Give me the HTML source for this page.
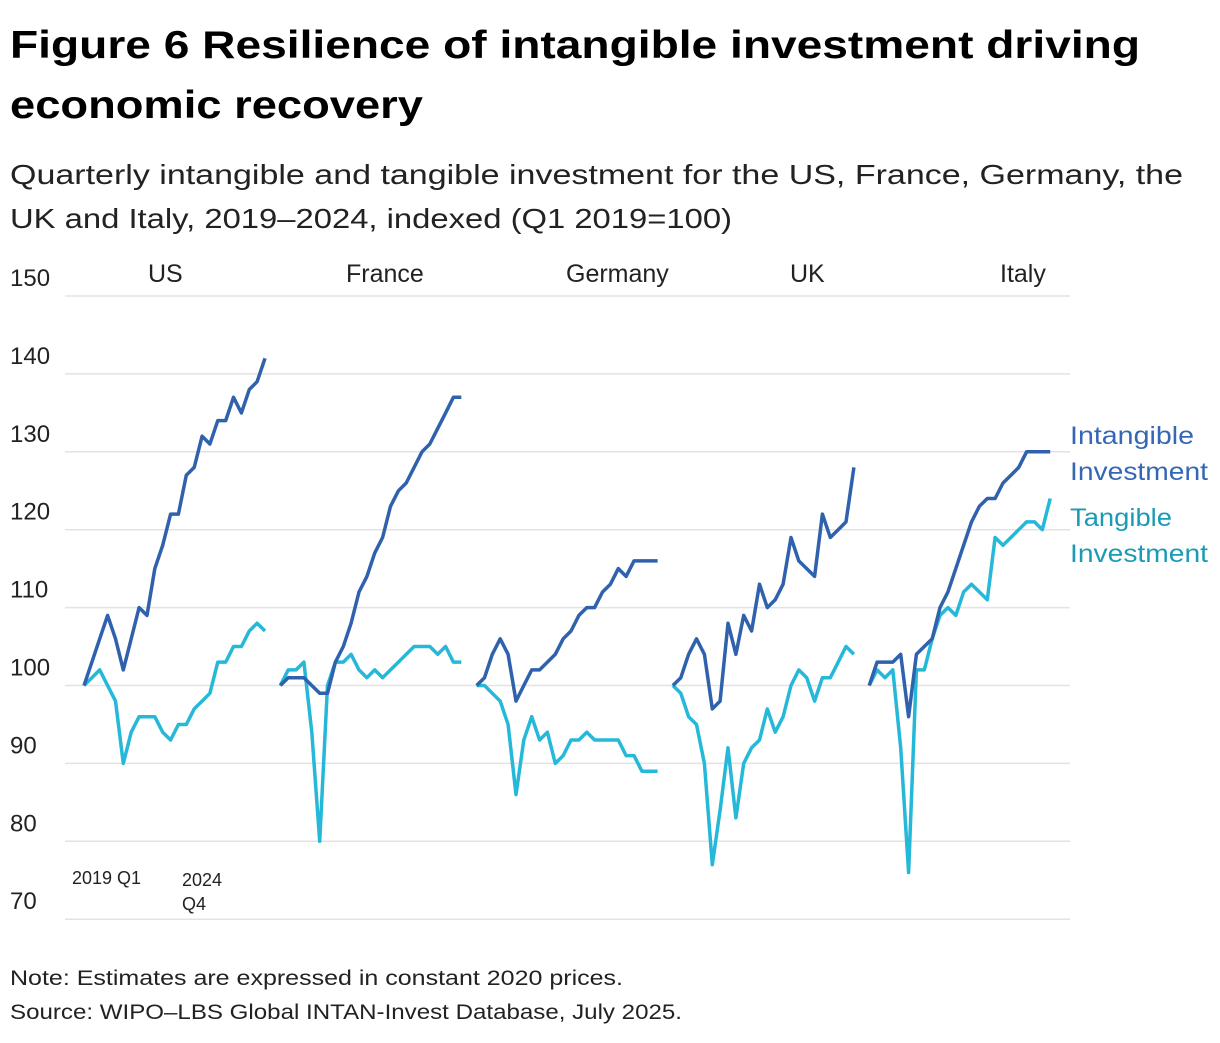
<!DOCTYPE html>
<html><head><meta charset="utf-8"><style>
body{margin:0;background:#fff;font-family:"Liberation Sans",sans-serif;}
svg text{font-family:"Liberation Sans",sans-serif;}
</style></head><body>
<svg width="1220" height="1038">
<text x="10" y="58" font-size="39" font-weight="bold" fill="#000" textLength="1130" lengthAdjust="spacingAndGlyphs">Figure 6 Resilience of intangible investment driving</text>
<text x="10" y="118" font-size="39" font-weight="bold" fill="#000" textLength="413" lengthAdjust="spacingAndGlyphs">economic recovery</text>
<text x="10" y="184" font-size="28" fill="#222" textLength="1173" lengthAdjust="spacingAndGlyphs">Quarterly intangible and tangible investment for the US, France, Germany, the</text>
<text x="10" y="228" font-size="28" fill="#222" textLength="722" lengthAdjust="spacingAndGlyphs">UK and Italy, 2019–2024, indexed (Q1 2019=100)</text>
<g id="grid"></g>
<g id="marks"></g>
<text x="72" y="884" font-size="18" fill="#222">2019 Q1</text>
<text x="182" y="886" font-size="18" fill="#222">2024</text>
<text x="182" y="910" font-size="18" fill="#222">Q4</text>
<text x="1070" y="444" font-size="25" fill="#3567b5" textLength="124" lengthAdjust="spacingAndGlyphs">Intangible</text>
<text x="1070" y="480" font-size="25" fill="#3567b5" textLength="138" lengthAdjust="spacingAndGlyphs">Investment</text>
<text x="1070" y="526" font-size="25" fill="#1a9bb5" textLength="102" lengthAdjust="spacingAndGlyphs">Tangible</text>
<text x="1070" y="562" font-size="25" fill="#1a9bb5" textLength="138" lengthAdjust="spacingAndGlyphs">Investment</text>
<text x="10" y="985" font-size="21" fill="#222" textLength="613" lengthAdjust="spacingAndGlyphs">Note: Estimates are expressed in constant 2020 prices.</text>
<text x="10" y="1019" font-size="21" fill="#222" textLength="672" lengthAdjust="spacingAndGlyphs">Source: WIPO–LBS Global INTAN-Invest Database, July 2025.</text>
</svg>
<script>
const countries=["US","France","Germany","UK","Italy"];
const yTicks=[150,140,130,120,110,100,90,80,70];
const usIntangible=[100,103,106,109,106,102,106,110,109,115,118,122,122,127,128,132,131,134,134,137,135,138,139,142];
const usTangible=[100,101,102,100,98,90,94,96,96,96,94,93,95,95,97,98,99,103,103,105,105,107,108,107];
const frIntangible=[100,101,101,101,100,99,99,103,105,108,112,114,117,119,123,125,126,128,130,131,133,135,137,137];
const frTangible=[100,102,102,103,94,80,100,103,103,104,102,101,102,101,102,103,104,105,105,105,104,105,103,103];
const deIntangible=[100,101,104,106,104,98,100,102,102,103,104,106,107,109,110,110,112,113,115,114,116,116,116,116];
const deTangible=[100,100,99,98,95,86,93,96,93,94,90,91,93,93,94,93,93,93,93,91,91,89,89,89];
const ukIntangible=[100,101,104,106,104,97,98,108,104,109,107,113,110,111,113,119,116,115,114,122,119,120,121,128];
const ukTangible=[100,99,96,95,90,77,84,92,83,90,92,93,97,94,96,100,102,101,98,101,101,103,105,104];
const itIntangible=[100,103,103,103,104,96,104,105,106,110,112,115,118,121,123,124,124,126,127,128,130,130,130,130];
const itTangible=[100,102,101,102,92,76,102,102,106,109,110,109,112,113,112,111,119,118,119,120,121,121,120,124];
const intangibleSeries=[usIntangible,frIntangible,deIntangible,ukIntangible,itIntangible];
const tangibleSeries=[usTangible,frTangible,deTangible,ukTangible,itTangible];
const NS="http://www.w3.org/2000/svg";
const y=v=>296+(150-v)*7.79;
const x=(p,i)=>84+p*196.3+i*7.87;
const grid=document.getElementById('grid'),marks=document.getElementById('marks');
yTicks.forEach(t=>{
 const l=document.createElementNS(NS,'line');
 l.setAttribute('x1',65);l.setAttribute('x2',1070);l.setAttribute('y1',y(t));l.setAttribute('y2',y(t));
 l.setAttribute('stroke','#e3e3e3');l.setAttribute('stroke-width','1.5');
 
 
 grid.appendChild(l);
 const tx=document.createElementNS(NS,'text');
 tx.setAttribute('x',10);tx.setAttribute('y',y(t)-10);tx.setAttribute('font-size','24');tx.setAttribute('fill','#222');
 tx.textContent=t;
 
 
 grid.appendChild(tx);
});
const titleX=[148,346,566,790,1000];
countries.forEach((c,p)=>{
 const tx=document.createElementNS(NS,'text');
 tx.setAttribute('x',titleX[p]);tx.setAttribute('y',282);tx.setAttribute('font-size','25');tx.setAttribute('fill','#222');
 tx.textContent=c;
 
 
 grid.appendChild(tx);
 [[tangibleSeries[p],'#25b8d8','tangible-line'],[intangibleSeries[p],'#2f61ad','intangible-line']].forEach(([s,col,nm])=>{
  const pl=document.createElementNS(NS,'polyline');
  pl.setAttribute('points',s.map((v,i)=>x(p,i).toFixed(1)+','+y(v).toFixed(1)).join(' '));
  pl.setAttribute('fill','none');pl.setAttribute('stroke',col);pl.setAttribute('stroke-width','3.5');
  pl.setAttribute('stroke-linejoin','round');
  
  
  marks.appendChild(pl);
 });
});
</script>
</body></html>
